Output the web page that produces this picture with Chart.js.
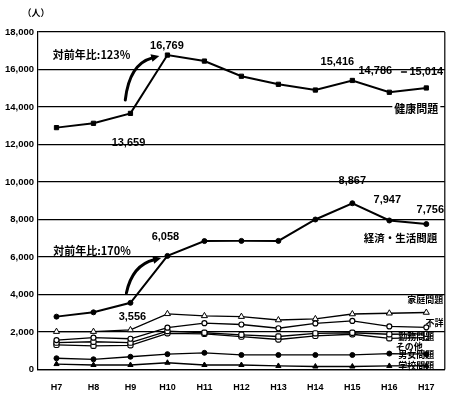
<!DOCTYPE html>
<html><head><meta charset="utf-8">
<script src="https://cdn.jsdelivr.net/npm/chart.js@4/dist/chart.umd.min.js"></script>
<style>html,body{margin:0;padding:0;background:#fff}</style>
</head><body>
<canvas id="c" width="450" height="394"></canvas>
<script>
// ---- data ----
const categories = ['H7','H8','H9','H10','H11','H12','H13','H14','H15','H16','H17'];
const yTickValues = [0,2000,4000,6000,8000,10000,12000,14000,16000,18000];
const health   = [12900, 13130, 13659, 16769, 16450, 15640, 15210, 14906, 15416, 14786, 15014];
const economic = [2820, 3050, 3556, 6058, 6850, 6860, 6860, 8000, 8867, 7947, 7756];
const family   = [2020, 2020, 2110, 2970, 2860, 2820, 2640, 2700, 2960, 3000, 3040];
const unknown  = [1570, 1700, 1640, 2230, 2470, 2400, 2200, 2460, 2590, 2300, 2250];
const work     = [1430, 1480, 1430, 2050, 1960, 1850, 1760, 1930, 1960, 1880, 1900];
const other    = [1310, 1260, 1290, 1930, 1900, 1750, 1600, 1790, 1880, 1660, 1700];
const gender   = [600, 545, 680, 820, 890, 775, 775, 775, 775, 850, 820];
const school   = [290, 240, 240, 360, 240, 240, 190, 160, 160, 190, 200];
const seriesNames = ['健康問題','経済・生活問題','家庭問題','不詳','勤務問題','その他','男女問題','学校問題'];

// ---- annotation config (anchors in data units, offsets in px) ----
const valueLabels = [
  {s:health, i:3, dx:-0.5, dy:-9},
  {s:health, i:2, dx:-2, dy:30},
  {s:health, i:8, dx:-15, dy:-18},
  {s:health, i:9, dx:-14, dy:-21},
  {s:health, i:10, dx:0, dy:-16, dash:true},
  {s:economic, i:3, dx:-2, dy:-19},
  {s:economic, i:2, dx:2, dy:14},
  {s:economic, i:8, dx:0, dy:-22},
  {s:economic, i:9, dx:-2, dy:-21},
  {s:economic, i:10, dx:4, dy:-14}
];
const freeLabels = [
  {t:'対前年比:123%', x:0.95, y:16770, size:11},
  {t:'対前年比:170%', x:0.96, y:6320, size:11},
  {t:seriesNames[0], x:9.73, y:13900, size:11, bg:true},
  {t:seriesNames[1], x:9.3, y:7000, size:10.5},
  {t:seriesNames[2], x:9.97, y:3707, size:9},
  {t:seriesNames[3], x:10.22, y:2480, size:9},
  {t:seriesNames[4], x:9.73, y:1733, size:9},
  {t:seriesNames[5], x:9.54, y:1216, size:9},
  {t:seriesNames[6], x:9.73, y:773, size:9},
  {t:seriesNames[7], x:9.73, y:187, size:9}
];
const arrows = [
  {from:[1.86,14373], ctrl:[1.97,16300], to:[2.78,16720]},
  {from:[1.89,4080], ctrl:[2.05,5573], to:[2.83,5947]}
];

const annot = {
  id:'annot',
  afterDatasetsDraw(chart){
    const ctx = chart.ctx, xs = chart.scales.x, ys = chart.scales.y, a = chart.chartArea;
    ctx.save();
    // right border
    ctx.strokeStyle = '#000'; ctx.lineWidth = 1.2;
    ctx.beginPath(); ctx.moveTo(a.right, a.top); ctx.lineTo(a.right, a.bottom); ctx.stroke();
    // arrows
    arrows.forEach(ar=>{
      const p0=[xs.getPixelForValue(ar.from[0]), ys.getPixelForValue(ar.from[1])];
      const pc=[xs.getPixelForValue(ar.ctrl[0]), ys.getPixelForValue(ar.ctrl[1])];
      const p1=[xs.getPixelForValue(ar.to[0]), ys.getPixelForValue(ar.to[1])];
      const ang = Math.atan2(p1[1]-pc[1], p1[0]-pc[0]);
      const hl = 9;
      const base=[p1[0]-Math.cos(ang)*hl*0.8, p1[1]-Math.sin(ang)*hl*0.8];
      ctx.lineWidth = 3; ctx.lineCap='round';
      ctx.beginPath(); ctx.moveTo(p0[0],p0[1]); ctx.quadraticCurveTo(pc[0],pc[1],base[0],base[1]); ctx.stroke();
      ctx.fillStyle='#000';
      ctx.beginPath();
      ctx.moveTo(p1[0],p1[1]);
      ctx.lineTo(p1[0]-Math.cos(ang-0.45)*hl, p1[1]-Math.sin(ang-0.45)*hl);
      ctx.lineTo(p1[0]-Math.cos(ang+0.45)*hl, p1[1]-Math.sin(ang+0.45)*hl);
      ctx.closePath(); ctx.fill();
    });
    // value labels
    ctx.textAlign='center'; ctx.textBaseline='middle'; ctx.fillStyle='#000';
    ctx.font='bold 11px "Liberation Sans", Arial, sans-serif';
    valueLabels.forEach(l=>{
      const px = xs.getPixelForValue(l.i)+l.dx, py = ys.getPixelForValue(l.s[l.i])+l.dy;
      const t = l.s[l.i].toLocaleString('en-US');
      ctx.fillText(t, px, py);
      if(l.dash){
        const w = ctx.measureText(t).width;
        ctx.lineWidth=1.3; ctx.beginPath();
        ctx.moveTo(px-w/2-8, py); ctx.lineTo(px-w/2-3, py); ctx.stroke();
      }
    });
    freeLabels.forEach(l=>{
      ctx.font = 'bold '+l.size+'px "Noto Sans CJK JP", "Liberation Sans", sans-serif';
      const px = xs.getPixelForValue(l.x), py = ys.getPixelForValue(l.y);
      if(l.bg){
        const w = ctx.measureText(l.t).width;
        ctx.fillStyle='#fff'; ctx.fillRect(px-w/2-2, py-l.size/2-1, w+4, l.size+2);
        ctx.fillStyle='#000';
      }
      ctx.fillText(l.t, px, py);
    });
    // unit label
    ctx.font='bold 9px "Noto Sans CJK JP", sans-serif';
    ctx.fillText('（人）', a.left-2, 13);
    ctx.restore();
  }
};

function ds(label, data, style, radius, bg, bw, lw){
  return {label, data, borderColor:'#000', borderWidth:lw, pointStyle:style, pointRadius:radius,
    pointBackgroundColor:bg, pointBorderColor:'#000', pointBorderWidth:bw, tension:0, fill:false};
}

new Chart(document.getElementById('c'), {
  type:'line',
  data:{
    labels:categories,
    datasets:[
      ds(seriesNames[0], health, 'rect', 3, '#000', 1, 2),
      ds(seriesNames[1], economic, 'circle', 2.5, '#000', 1, 2),
      ds(seriesNames[2], family, 'triangle', 3.5, '#fff', 1, 1.3),
      ds(seriesNames[3], unknown, 'circle', 2.5, '#fff', 1.2, 1.3),
      ds(seriesNames[4], work, 'rectRounded', 3, '#fff', 1.2, 1.3),
      ds(seriesNames[5], other, 'rectRounded', 3, '#fff', 1.2, 1.3),
      ds(seriesNames[6], gender, 'circle', 2.5, '#000', 1, 1.3),
      ds(seriesNames[7], school, 'triangle', 3, '#000', 1, 1.3)
    ]
  },
  options:{
    responsive:false, devicePixelRatio:1, animation:false,
    layout:{padding:{top:32, right:4, left:0, bottom:0}},
    plugins:{legend:{display:false}, tooltip:{enabled:false}},
    scales:{
      x:{
        type:'category', offset:true,
        grid:{display:false, drawTicks:false},
        border:{display:true, color:'#000', width:1.2},
        ticks:{color:'#000', padding:13, font:{family:'"Liberation Sans", Arial', size:9, weight:'bold'}, maxRotation:0, autoSkip:false},
        afterFit(s){ s.height = 24.5; }
      },
      y:{
        min:0, max:18000,
        afterBuildTicks(s){ s.ticks = yTickValues.map(v=>({value:v})); },
        grid:{color:'#000', lineWidth:1.2, drawTicks:false},
        border:{display:true, color:'#000', width:1.2},
        ticks:{color:'#000', padding:4, font:{family:'"Liberation Sans", Arial', size:9.5, weight:'bold'},
          callback:(v)=>Number(v).toLocaleString('en-US')},
        afterFit(s){ s.width = 38; }
      }
    }
  },
  plugins:[annot]
});
</script>
</body></html>
